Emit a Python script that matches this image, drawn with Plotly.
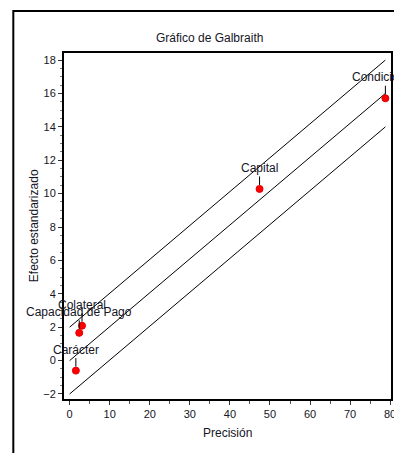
import plotly.graph_objects as go

# Data
factors = ["Carácter", "Capacidad de Pago", "Colateral", "Capital", "Condiciones"]
precision = [1.56, 2.4, 3.1, 47.4, 78.8]
std_effect = [-0.6, 1.66, 2.09, 10.28, 15.71]
pooled_slope = 0.203
band = 2.0

x_tick_vals = [0, 10, 20, 30, 40, 50, 60, 70]
x_edge_tick = 80
y_tick_vals = [-2, 0, 2, 4, 6, 8, 10, 12, 14, 16, 18]

W, H = 394, 453
L, R, T, B = 64, 393, 53, 399

FONT = "Liberation Sans, Arial, sans-serif"
TXT = "#151525"

fig = go.Figure()

xmax = max(precision)
for off in (band, 0.0, -band):
    fig.add_trace(go.Scatter(
        x=[0, xmax], y=[off, off + pooled_slope * xmax],
        mode="lines", line=dict(color="black", width=1),
        hoverinfo="skip", showlegend=False))

fig.add_trace(go.Scatter(
    x=precision, y=std_effect, mode="markers",
    marker=dict(color="#ff0000", size=7, line=dict(color="#e00000", width=1)),
    showlegend=False))

annotations = []
for name, xv, yv in zip(factors, precision, std_effect):
    annotations.append(dict(
        x=xv, y=yv, xref="x", yref="y", text=name,
        showarrow=True, arrowhead=0, arrowwidth=1, arrowcolor="black",
        ax=0, ay=-21, standoff=4,
        font=dict(family=FONT, size=12, color=TXT)))

def px_x(p):
    return (p - L) / (R - L)

def px_y(p):
    return (B - p) / (B - T)

annotations += [
    dict(text="Gráfico de Galbraith", xref="paper", yref="paper",
         x=px_x(210), y=px_y(38), xanchor="center", yanchor="middle",
         showarrow=False, font=dict(family=FONT, size=12, color=TXT)),
    dict(text="Precisión", xref="paper", yref="paper",
         x=px_x(228), y=px_y(433), xanchor="center", yanchor="middle",
         showarrow=False, font=dict(family=FONT, size=12, color=TXT)),
    dict(text="Efecto estandarizado", xref="paper", yref="paper",
         x=px_x(34), y=px_y(226), xanchor="center", yanchor="middle",
         showarrow=False, textangle=-90,
         font=dict(family=FONT, size=12, color=TXT)),
    dict(text=str(x_edge_tick), xref="x", yref="paper",
         x=x_edge_tick, y=px_y(414), xanchor="center", yanchor="middle",
         showarrow=False, font=dict(family=FONT, size=11, color=TXT)),
]

fig.update_layout(
    width=W, height=H,
    margin=dict(l=L, r=W - R, t=T, b=H - B),
    paper_bgcolor="white", plot_bgcolor="white",
    annotations=annotations,
    shapes=[dict(type="rect", xref="paper", yref="paper",
                 x0=px_x(13), x1=px_x(420), y0=px_y(470), y1=px_y(11),
                 line=dict(color="black", width=2), layer="below")],
    font=dict(family=FONT, size=11, color=TXT),
)

fig.update_xaxes(
    range=[-1.4, 80.2], tickvals=x_tick_vals + [x_edge_tick],
    ticktext=[str(v) for v in x_tick_vals] + [""],
    showgrid=False, zeroline=False,
    showline=True, linecolor="black", linewidth=2, mirror=True,
    ticks="outside", ticklen=4, tickcolor="#333", tickwidth=1,
    minor=dict(dtick=5, ticks="outside", ticklen=3, tickcolor="#555", showgrid=False),
    tickfont=dict(family=FONT, size=11, color=TXT))

fig.update_yaxes(
    range=[-2.3, 18.42], tickvals=y_tick_vals,
    showgrid=False, zeroline=False,
    showline=True, linecolor="black", linewidth=2, mirror=True,
    ticks="outside", ticklen=4, tickcolor="#333", tickwidth=1,
    minor=dict(dtick=0.5, ticks="outside", ticklen=2, tickcolor="#777", showgrid=False),
    tickfont=dict(family=FONT, size=11, color=TXT))

fig.write_html("out.html")
